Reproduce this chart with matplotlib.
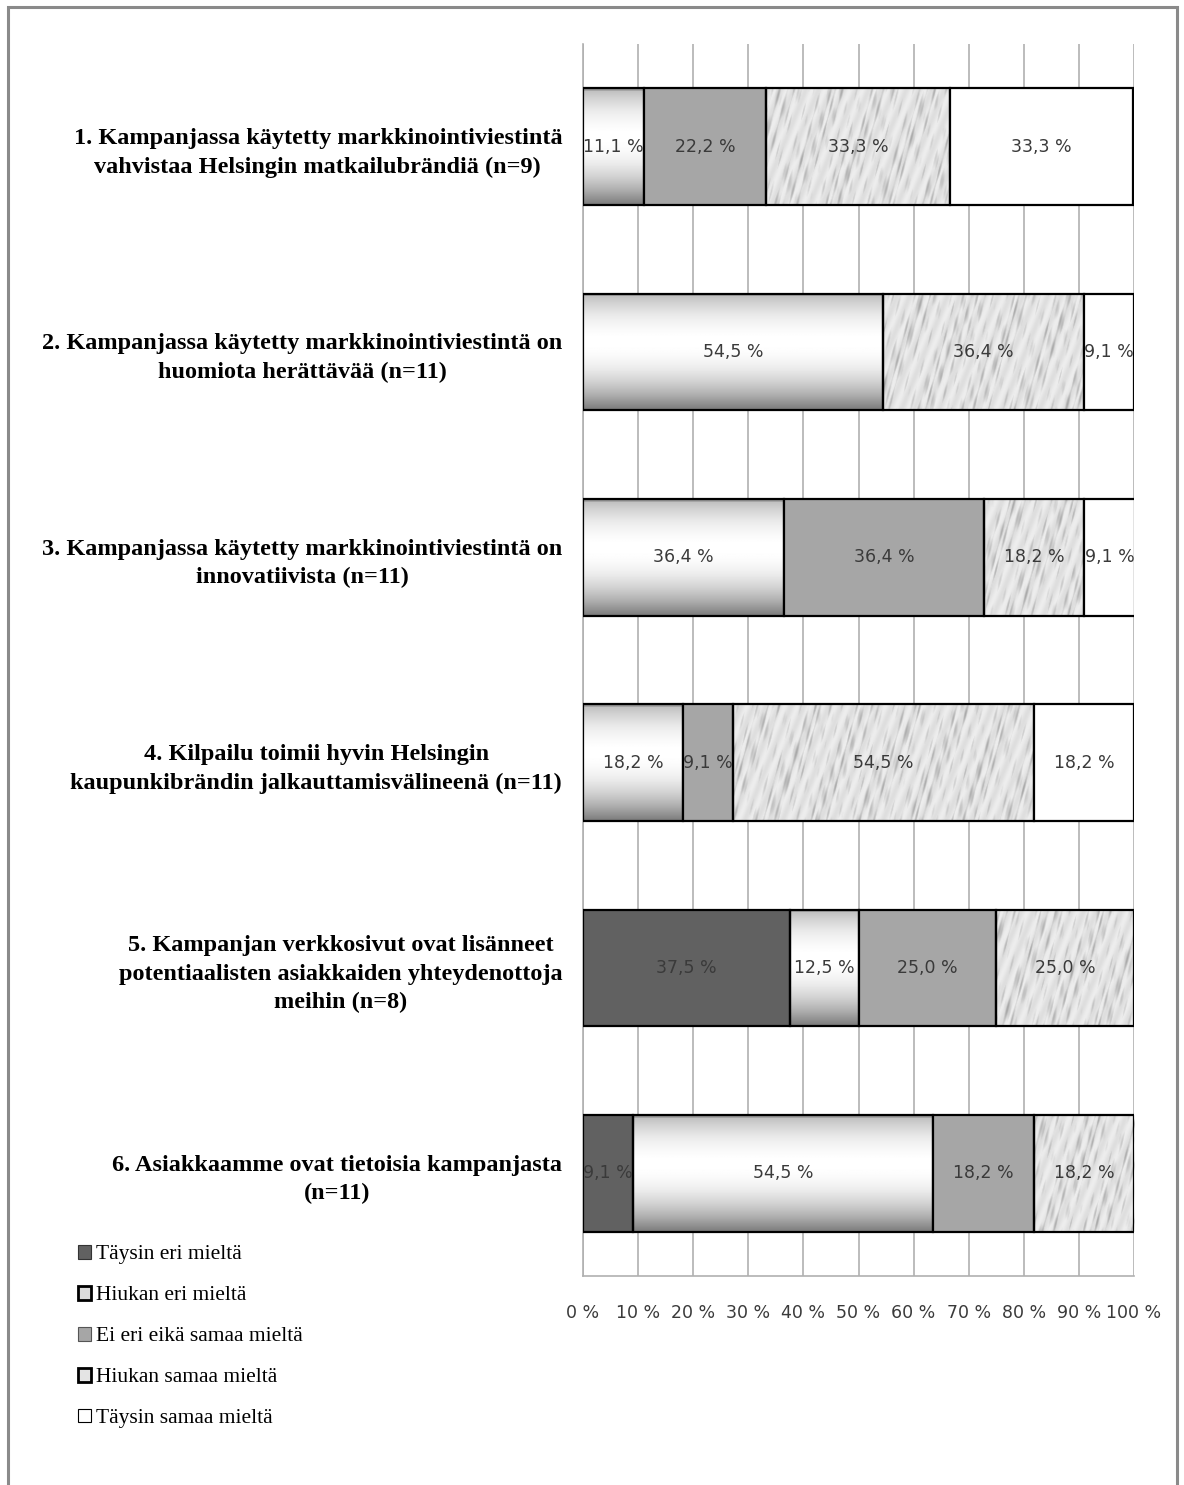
import numpy as np
import matplotlib
matplotlib.use("Agg")
import matplotlib.pyplot as plt
from matplotlib.patches import Rectangle

# survey answers, percent of respondents per statement
questions = [
    "1. Kampanjassa käytetty markkinointiviestintä\nvahvistaa Helsingin matkailubrändiä (n=9)",
    "2. Kampanjassa käytetty markkinointiviestintä on\nhuomiota herättävää (n=11)",
    "3. Kampanjassa käytetty markkinointiviestintä on\ninnovatiivista (n=11)",
    "4. Kilpailu toimii hyvin Helsingin\nkaupunkibrändin jalkauttamisvälineenä (n=11)",
    "5. Kampanjan verkkosivut ovat lisänneet\npotentiaalisten asiakkaiden yhteydenottoja\nmeihin (n=8)",
    "6. Asiakkaamme ovat tietoisia kampanjasta\n(n=11)",
]
answer_labels = ["Täysin eri mieltä", "Hiukan eri mieltä", "Ei eri eikä samaa mieltä",
                 "Hiukan samaa mieltä", "Täysin samaa mieltä"]
taysin_eri = [0.0, 0.0, 0.0, 0.0, 37.5, 9.1]
hiukan_eri = [11.1, 54.5, 36.4, 18.2, 12.5, 54.5]
ei_eri_eika_samaa = [22.2, 0.0, 36.4, 9.1, 25.0, 18.2]
hiukan_samaa = [33.3, 36.4, 18.2, 54.5, 25.0, 18.2]
taysin_samaa = [33.3, 9.1, 9.1, 18.2, 0.0, 0.0]
xticks = [0, 10, 20, 30, 40, 50, 60, 70, 80, 90, 100]

series = [taysin_eri, hiukan_eri, ei_eri_eika_samaa, hiukan_samaa, taysin_samaa]

W, H = 1184, 1485
fig = plt.figure(figsize=(W / 100, H / 100), dpi=100)
fig.patch.set_facecolor("white")

# page frame
fig.add_artist(Rectangle((8 / W, -0.01), (1177 - 8) / W, 1 - 7 / H + 0.01,
                         transform=fig.transFigure, fill=False,
                         edgecolor="#8a8a8a", linewidth=2.2))

ax = fig.add_axes([583 / W, 1 - 1276 / H, (1134 - 583) / W, (1276 - 44) / H])

bar_h = 0.567
ypos = np.arange(len(questions))


def cylinder(h_rows=120):
    t = np.linspace(0, 1, h_rows)
    v = 1 - 0.52 * ((t - 0.42) / 0.58) ** 2
    v = np.clip(v, 0.45, 1.0)
    v[:3] = [0.5, 0.58, 0.64]
    return v[:, None]


def marble(x0, w, y):
    # grey streaky surface, scaled in data units so all segments match
    nx = max(int(w * 6), 2)
    ny = 120
    xs = np.linspace(x0, x0 + w, nx) * 5.5
    ys = (y + np.linspace(0, 1, ny)[:, None]) * 117
    X = xs[None, :]
    Y = ys
    s = (np.sin(0.9 * X + 0.25 * Y + 1.3 * np.sin(0.07 * Y + 0.3 * X))
         + 0.7 * np.sin(0.37 * X - 0.11 * Y + 2.1 * np.sin(0.05 * X))
         + 0.5 * np.sin(1.7 * X + 0.45 * Y)
         + 0.6 * np.sin(0.13 * X + 0.06 * Y))
    v = 0.9 - 0.1 * np.clip(s - 0.4, 0, None) + 0.03 * np.sin(0.2 * Y + 0.5 * X)
    return np.clip(v, 0.66, 0.97)


left = np.zeros(len(questions))
for k, vals in enumerate(series):
    vals = np.array(vals)
    for i in range(len(questions)):
        w = vals[i]
        if w <= 0:
            continue
        x0 = left[i]
        y0, y1 = ypos[i] - bar_h / 2, ypos[i] + bar_h / 2
        if k == 0:
            fc = "#616161"
        elif k == 2:
            fc = "#a6a6a6"
        elif k == 4:
            fc = "white"
        else:
            fc = "none"
        ax.barh(ypos[i], w, left=x0, height=bar_h, color=fc,
                edgecolor="black", linewidth=1.6, zorder=3)
        if k == 1:
            ax.imshow(cylinder(), extent=(x0, x0 + w, y1, y0), aspect="auto",
                      cmap="gray", vmin=0, vmax=1, zorder=2, interpolation="bilinear")
        elif k == 3:
            ax.imshow(marble(x0, w, i), extent=(x0, x0 + w, y1, y0), aspect="auto",
                      cmap="gray", vmin=0, vmax=1, zorder=2, interpolation="bilinear")
        ax.text(x0 + w / 2, ypos[i], f"{w:.1f} %".replace(".", ","),
                ha="center", va="center", fontsize=12.5, color="#3a3a3a",
                family="DejaVu Sans", zorder=5)
    left += vals

ax.set_xlim(0, 100)
ax.set_ylim(len(questions) - 0.5, -0.5)
ax.set_xticks(xticks)
ax.set_xticklabels([f"{t} %" for t in xticks], fontsize=12.5, color="#3a3a3a",
                   family="DejaVu Sans")
ax.set_yticks(ypos)
ax.set_yticklabels(questions, fontsize=17.5, fontweight="bold",
                   family="Liberation Serif", linespacing=1.45)
for lbl in ax.get_yticklabels():
    lbl.set_multialignment("center")
ax.tick_params(axis="both", length=0)
ax.tick_params(axis="y", pad=15)
ax.tick_params(axis="x", pad=20)
ax.grid(axis="x", color="#b0b0b0", linewidth=1.2, zorder=0)
ax.set_axisbelow(True)
for side in ["top", "right"]:
    ax.spines[side].set_visible(False)
ax.spines["left"].set_color("#b0b0b0")
ax.spines["bottom"].set_color("#b0b0b0")
ax.spines["left"].set_linewidth(1.2)
ax.spines["bottom"].set_linewidth(1.2)

handles = [
    Rectangle((0, 0), 1, 1, facecolor="#616161", edgecolor="#333333", linewidth=0.8),
    Rectangle((0, 0), 1, 1, facecolor="#dcdcdc", edgecolor="black", linewidth=2.0),
    Rectangle((0, 0), 1, 1, facecolor="#a6a6a6", edgecolor="#555555", linewidth=0.8),
    Rectangle((0, 0), 1, 1, facecolor="#e4e4e4", edgecolor="black", linewidth=2.0),
    Rectangle((0, 0), 1, 1, facecolor="white", edgecolor="black", linewidth=0.8),
]
fig.legend(handles, answer_labels, loc="upper left",
           bbox_to_anchor=(78 / W, 1 - 1245 / H), frameon=False,
           prop={"family": "Liberation Serif", "size": 15.5},
           handlelength=0.6, handleheight=0.6, handletextpad=0.25,
           labelspacing=1.0, borderaxespad=0, borderpad=0)

fig.savefig("out.png", dpi=100)
